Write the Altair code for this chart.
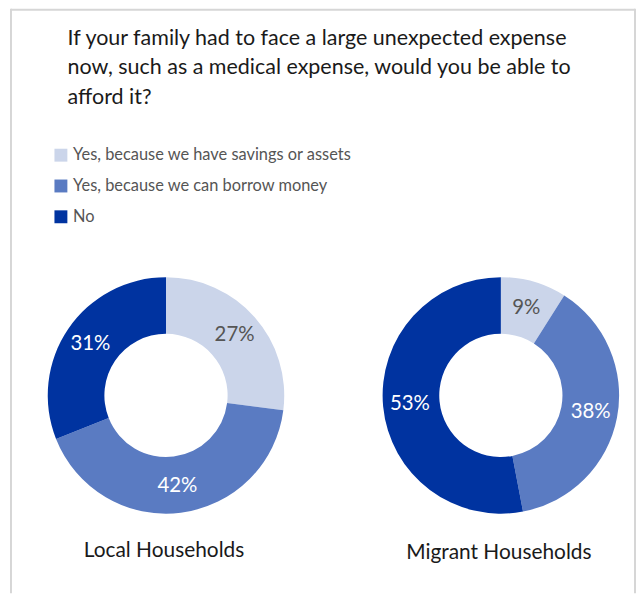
import altair as alt
import pandas as pd

# ---- data ----
title_lines = [
    "If your family had to face a large unexpected expense",
    "now, such as a medical expense, would you be able to",
    "afford it?",
]
categories = [
    "Yes, because we have savings or assets",
    "Yes, because we can borrow money",
    "No",
]
colors = ["#cbd5ea", "#5a7bc2", "#0033a0"]
groups = ["Local Households", "Migrant Households"]
local_values = [27, 42, 31]
migrant_values = [9, 38, 53]

FONT = "Lato"
W, H = 632, 587

rows = []
for g, vals in zip(groups, [local_values, migrant_values]):
    for i, (c, v) in enumerate(zip(categories, vals)):
        rows.append({"group": g, "category": c, "value": v, "order": i, "label": f"{v}%"})
df = pd.DataFrame(rows)

color_enc = alt.Color(
    "category:N",
    scale=alt.Scale(domain=categories, range=colors),
    sort=categories,
    legend=alt.Legend(
        title=None,
        orient="none",
        legendX=45,
        legendY=138,
        symbolType="square",
        symbolSize=169,
        symbolStrokeWidth=0,
        symbolOpacity=1,
        labelFont=FONT,
        labelFontSize=16.5,
        labelFontWeight=400,
        labelColor="#555555",
        labelOffset=4,
        rowPadding=14,
        labelLimit=400,
    ),
)


def donut(group, cx, cy, label_dy):
    base = alt.Chart(df).transform_filter(alt.datum.group == group)
    arcs = base.mark_arc(outerRadius=119, innerRadius=62).encode(
        theta=alt.Theta("value:Q", stack=True),
        order=alt.Order("order:Q", sort="ascending"),
        color=color_enc,
        x=alt.value(cx),
        y=alt.value(cy),
    )
    pct = base.mark_text(radius=92, font=FONT, fontSize=20.5, fontWeight=400).encode(
        theta=alt.Theta("value:Q", stack=True),
        order=alt.Order("order:Q", sort="ascending"),
        text="label:N",
        color=alt.condition(
            alt.datum.category == categories[0], alt.value("#555555"), alt.value("white")
        ),
        x=alt.value(cx),
        y=alt.value(cy),
    )
    name = (
        alt.Chart(pd.DataFrame({"group": [group]}))
        .mark_text(font=FONT, fontSize=21, fontWeight=400, color="#1a1a1a")
        .encode(text="group:N", x=alt.value(cx - 2), y=alt.value(cy + label_dy))
    )
    return arcs + pct + name


title = (
    alt.Chart(pd.DataFrame({"t": ["\n".join(title_lines)]}))
    .mark_text(
        font=FONT,
        fontSize=21.6,
        color="#1a1a1a",
        align="left",
        baseline="alphabetic",
        lineBreak="\n",
        lineHeight=30,
    )
    .encode(text="t:N", x=alt.value(60), y=alt.value(35))
)

border_df = pd.DataFrame({"k": [0]})
left_line = alt.Chart(border_df).mark_rule(color="#d6d6d6", strokeWidth=2).encode(
    x=alt.value(3), y=alt.value(-1), y2=alt.value(H)
)
right_line = alt.Chart(border_df).mark_rule(color="#d6d6d6", strokeWidth=2).encode(
    x=alt.value(631), y=alt.value(-1), y2=alt.value(H)
)
top_line = alt.Chart(border_df).mark_rule(color="#d6d6d6", strokeWidth=2).encode(
    x=alt.value(3), x2=alt.value(631), y=alt.value(0)
)

chart = (
    alt.layer(
        left_line,
        right_line,
        top_line,
        title,
        donut(groups[0], 159, 388, 157),
        donut(groups[1], 496, 388, 159),
    )
    .properties(width=W, height=H, padding=0, autosize=alt.AutoSizeParams(type="none"))
    .configure_view(stroke=None)
)

chart.save("out.html", embed_options={"renderer": "svg", "actions": False})
